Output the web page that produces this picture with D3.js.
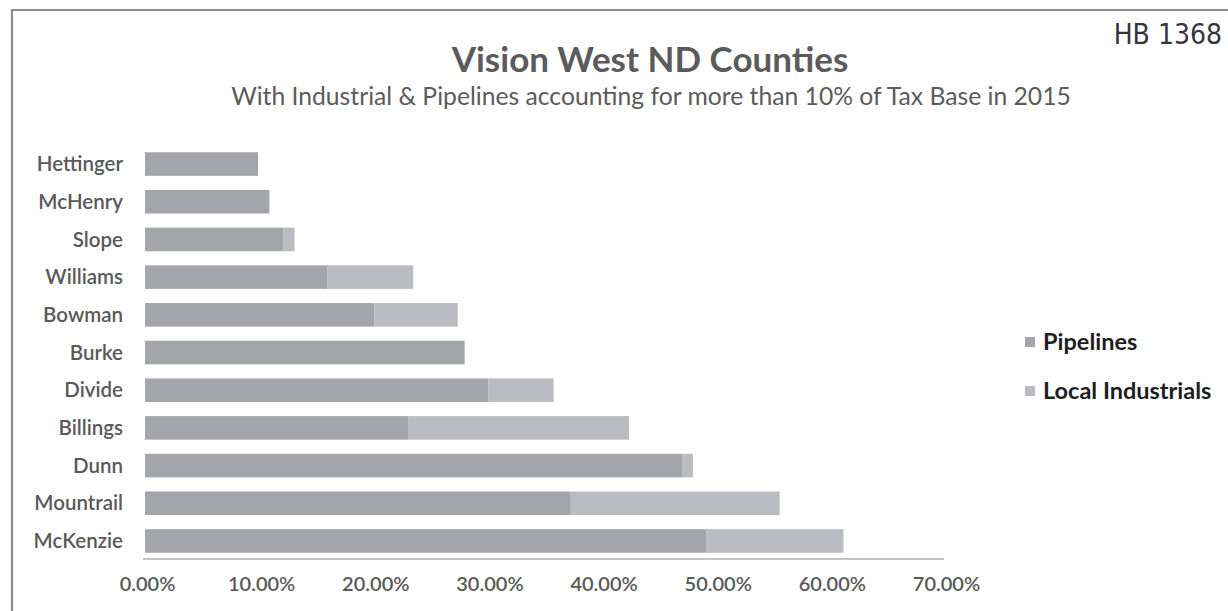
<!DOCTYPE html>
<html>
<head>
<meta charset="utf-8">
<script src="https://cdn.jsdelivr.net/npm/d3@7/dist/d3.min.js"></script>
<style>
  html, body { margin: 0; padding: 0; background: #fff; }
  svg { display: block; }
</style>
</head>
<body>
<svg id="chart" width="1228" height="611"></svg>
<script>
// Counties, top to bottom
const counties = ["Hettinger", "McHenry", "Slope", "Williams", "Bowman", "Burke",
                  "Divide", "Billings", "Dunn", "Mountrail", "McKenzie"];
// Share of 2015 tax base (%)
const pipelines = [9.9, 10.9, 12.1, 16.0, 20.1, 28.0, 30.1, 23.1, 47.1, 37.3, 49.2];
const localIndustrials = [0, 0, 1.0, 7.5, 7.3, 0, 5.7, 19.3, 0.9, 18.3, 12.0];
const seriesNames = ["Pipelines", "Local Industrials"];
const xTicks = [0, 10, 20, 30, 40, 50, 60, 70];

const colors = { "Pipelines": "#a4a5aa", "Local Industrials": "#bbbcc1" };
const textGray = "#595959";
const font = "Lato, 'Open Sans', sans-serif";

const svg = d3.select("#chart");

// Page frame
svg.append("path")
  .attr("d", "M12,611 L12,10 L1228,10")
  .attr("fill", "none")
  .attr("stroke", "#8c8c8c")
  .attr("stroke-width", 2.2);

// Handwritten bill number
svg.append("text")
  .attr("x", 1222).attr("y", 44)
  .attr("text-anchor", "end")
  .attr("font-family", "'Liberation Sans Narrow', 'DejaVu Sans Condensed', 'DejaVu Sans', sans-serif")
  .attr("font-size", 28)
  .attr("fill", "#34343f")
  .text("HB 1368");

// Titles
svg.append("text")
  .attr("x", 650).attr("y", 72)
  .attr("text-anchor", "middle")
  .attr("font-family", font)
  .attr("font-weight", "bold")
  .attr("font-size", 35)
  .attr("fill", "#5b5b5b")
  .text("Vision West ND Counties");

svg.append("text")
  .attr("x", 651).attr("y", 105)
  .attr("text-anchor", "middle")
  .attr("font-family", font)
  .attr("font-size", 24.7)
  .attr("fill", "#5b5b5b")
  .text("With Industrial & Pipelines accounting for more than 10% of Tax Base in 2015");

// Scales
const x = d3.scaleLinear().domain([0, 70]).range([145, 944]);
const y = d3.scaleBand().domain(counties)
  .range([145.2, 559.8]).paddingInner(0.375).paddingOuter(0.1875);

// Stacked data
const rows = counties.map((c, i) => ({
  county: c,
  "Pipelines": pipelines[i],
  "Local Industrials": localIndustrials[i]
}));
const stacked = d3.stack().keys(seriesNames)(rows);

svg.append("g")
  .selectAll("g")
  .data(stacked)
  .join("g")
    .attr("fill", d => colors[d.key])
  .selectAll("rect")
  .data(d => d.filter(s => s[1] - s[0] > 0))
  .join("rect")
    .attr("x", d => x(d[0]))
    .attr("y", d => y(d.data.county))
    .attr("width", d => x(d[1]) - x(d[0]))
    .attr("height", y.bandwidth());

// Category labels
svg.append("g")
  .selectAll("text")
  .data(counties)
  .join("text")
    .attr("x", 123)
    .attr("y", d => y(d) + y.bandwidth() / 2)
    .attr("dy", "0.35em")
    .attr("text-anchor", "end")
    .attr("font-family", font)
    .attr("font-weight", 600)
    .attr("font-size", 20.5)
    .attr("fill", textGray)
    .text(d => d);

// Horizontal axis
const xAxis = d3.axisBottom(x)
  .tickValues(xTicks)
  .tickSize(0)
  .tickPadding(18)
  .tickFormat(d => d3.format(".2f")(d) + "%");

const gx = svg.append("g")
  .attr("transform", "translate(0,559)")
  .call(xAxis);
gx.select(".domain")
  .attr("stroke", "#b0b0b0")
  .attr("stroke-width", 1.5)
  .attr("d", `M${x(0) - 2},0H${x(70)}`);
gx.selectAll(".tick text")
  .attr("font-family", font)
  .attr("font-weight", 600)
  .attr("font-size", 20)
  .attr("fill", textGray)
  .attr("dx", 2);

// Legend
const legend = svg.append("g")
  .selectAll("g")
  .data(seriesNames)
  .join("g")
    .attr("transform", (d, i) => `translate(1025,${342 + i * 49})`);
legend.append("rect")
  .attr("x", 0).attr("y", -5)
  .attr("width", 10).attr("height", 10)
  .attr("fill", d => colors[d]);
legend.append("text")
  .attr("x", 18).attr("y", 0)
  .attr("dy", "0.35em")
  .attr("font-family", font)
  .attr("font-weight", "bold")
  .attr("font-size", 23.5)
  .attr("fill", "#1e1e1e")
  .text(d => d);
</script>
</body>
</html>
